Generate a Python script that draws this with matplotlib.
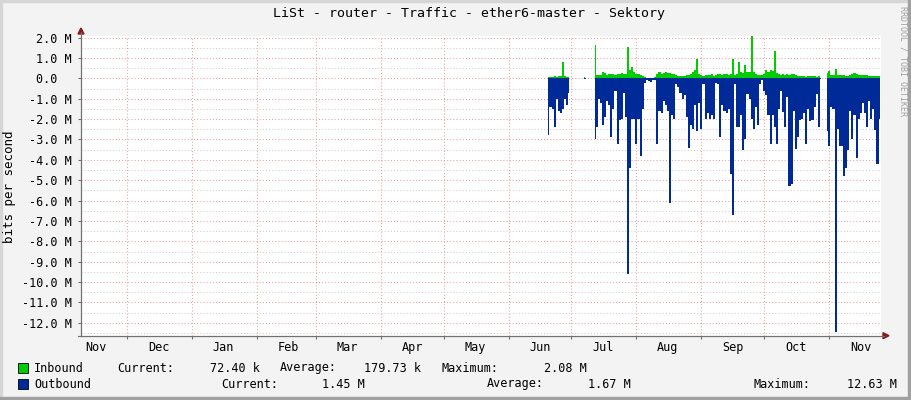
import datetime as dt
import numpy as np
import matplotlib
matplotlib.use("Agg")
import matplotlib.pyplot as plt
import matplotlib.dates as mdates
from matplotlib.ticker import MultipleLocator, FixedLocator, NullFormatter
from matplotlib.patches import Rectangle, Polygon
from matplotlib.lines import Line2D

nan = np.nan

# daily samples from 2023-06-20, in Mbit/s
start = dt.datetime(2023, 6, 20)
inbound = [
    0.08, 0.08, 0.07, 0.10, 0.08, 0.10, 0.12, 0.80, 0.10, 0.08,
    0.05, nan, nan, nan, nan, nan, nan, 0.05, 0.04, nan,
    nan, nan, 1.64, 0.15, 0.15, 0.15, 0.30, 0.25, 0.15, 0.20,
    0.20, 0.20, 0.15, 0.20, 0.20, 0.25, 0.20, 0.20, 1.55, 0.40,
    0.55, 0.30, 0.20, 0.20, 0.15, 0.10, 0.05, 0.00, 0.00, 0.02,
    0.03, 0.05, 0.20, 0.30, 0.20, 0.25, 0.30, 0.25, 0.25, 0.20,
    0.20, 0.15, 0.10, 0.12, 0.12, 0.10, 0.15, 0.15, 0.20, 0.30,
    0.40, 0.95, 0.20, 0.15, 0.10, 0.15, 0.15, 0.15, 0.20, 0.10,
    0.15, 0.20, 0.20, 0.15, 0.20, 0.20, 0.15, 0.20, 0.95, 0.15,
    0.20, 0.80, 0.30, 0.25, 0.65, 0.30, 0.30, 2.08, 0.30, 0.20,
    0.15, 0.15, 0.15, 0.20, 0.40, 0.30, 0.40, 0.35, 1.36, 0.25,
    0.20, 0.15, 0.20, 0.15, 0.20, 0.15, 0.20, 0.20, 0.15, 0.10,
    0.10, 0.12, 0.10, 0.08, 0.10, 0.12, 0.10, 0.10, 0.08, 0.10,
    0.02, nan, nan, 0.25, 0.35, 0.15, 0.15, 0.45, 0.15, 0.15,
    0.15, 0.15, 0.10, 0.12, 0.15, 0.20, 0.25, 0.20, 0.15, 0.15,
    0.15, 0.15, 0.15, 0.10, 0.10, 0.10, 0.10, 0.10, 0.10,
]
outbound = [
    2.80, 1.40, 1.50, 2.40, 1.00, 1.60, 1.70, 1.50, 1.00, 1.30,
    0.70, nan, nan, nan, nan, nan, nan, 0.03, 0.02, nan,
    nan, nan, 3.00, 2.40, 1.00, 1.20, 2.30, 1.90, 1.10, 1.30,
    2.90, 1.50, 0.60, 3.20, 2.05, 2.00, 0.70, 1.90, 9.60, 4.40,
    2.00, 2.00, 3.20, 2.00, 3.80, 1.50, 0.25, 0.10, 0.15, 0.20,
    0.10, 0.10, 3.20, 1.60, 1.70, 1.10, 1.30, 1.60, 6.10, 1.80,
    2.00, 0.30, 0.40, 0.70, 1.00, 0.80, 1.90, 3.40, 2.30, 2.50,
    1.30, 2.60, 1.20, 2.50, 0.30, 2.00, 1.70, 2.00, 1.80, 2.00,
    0.25, 0.30, 2.90, 1.30, 1.60, 1.70, 1.50, 4.70, 6.70, 0.30,
    2.40, 2.40, 1.80, 3.50, 3.00, 0.75, 1.00, 2.00, 2.50, 1.40,
    2.30, 0.30, 0.10, 0.60, 0.80, 1.80, 3.20, 1.80, 2.40, 3.20,
    1.50, 0.60, 1.65, 2.40, 0.90, 5.30, 5.20, 1.60, 3.45, 2.90,
    2.05, 2.00, 1.70, 3.20, 1.50, 2.10, 2.05, 1.40, 0.75, 2.40,
    0.05, nan, nan, 2.60, 3.30, 1.40, 1.50, 12.45, 2.50, 3.30,
    3.30, 4.80, 4.40, 3.50, 1.60, 3.00, 1.80, 3.90, 2.00, 1.70,
    1.20, 1.70, 2.40, 1.10, 2.00, 1.50, 2.55, 4.20, 2.00,
]

ytick_values = list(range(2, -13, -1))
ytick_labels = ["2.0 M", "1.0 M", "0.0  "] + [f"{v}.0 M" for v in range(-1, -13, -1)]

legend_rows = [
    ("Inbound", "#00CC00",
     [("Current:", 117, "72.40 k", 260), ("Average:", 280, "179.73 k", 421),
      ("Maximum:", 442, "2.08 M", 587)]),
    ("Outbound", "#002A97",
     [("Current:", 221, "1.45 M", 365), ("Average:", 487, "1.67 M", 631),
      ("Maximum:", 753, "12.63 M", 897)]),
]

W, H = 911, 400
fx = lambda x: x / W
fy = lambda y: 1 - y / H

plt.rcParams['font.family'] = ['DejaVu Sans Mono']
fig = plt.figure(figsize=(W / 100, H / 100), dpi=100, facecolor="#F3F3F3")
ax = fig.add_axes([fx(81), fy(335.7), 800 / W, (335.7 - 36) / H])
ax.set_facecolor("white")

days = [start + dt.timedelta(days=i) for i in range(len(inbound))]
inb = np.array(inbound)
outb = -np.array(outbound)
ax.fill_between(days, 0, inb, color="#00CC00", lw=0, step="mid", zorder=2)
ax.fill_between(days, 0, outb, color="#002A97", lw=0, step="mid", zorder=2)

ax.set_xlim(dt.datetime(2022, 12, 1) - dt.timedelta(days=21.94),
            dt.datetime(2023, 11, 1) + dt.timedelta(days=24.66))
ax.set_ylim(-12.63, 2.08)

ax.xaxis.set_major_locator(mdates.MonthLocator())
ax.xaxis.set_major_formatter(NullFormatter())
ax.xaxis.set_minor_locator(mdates.MonthLocator(bymonthday=16))
ax.xaxis.set_minor_formatter(mdates.DateFormatter("%b"))
ax.tick_params(axis="x", which="major", length=2, color="#707070")
ax.tick_params(axis="x", which="minor", length=0, pad=3.5, labelsize=8.5)

ax.yaxis.set_major_locator(FixedLocator(ytick_values))
ax.set_yticklabels(ytick_labels)
ax.yaxis.set_minor_locator(MultipleLocator(0.5))
ax.tick_params(axis="y", which="major", length=2, color="#707070", pad=4.5, labelsize=8.5)
ax.tick_params(axis="y", which="minor", length=0)

ax.set_axisbelow(True)
ax.xaxis.grid(True, which="major", color="#EE9E9E", lw=0.75, linestyle=(0, (1, 2)))
ax.yaxis.grid(True, which="major", color="#EE9E9E", lw=0.75, linestyle=(0, (1, 2)))
ax.yaxis.grid(True, which="minor", color="#CFCFCF", lw=0.75, linestyle=(0, (1, 2)))

for s in ("top", "right"):
    ax.spines[s].set_visible(False)
for s in ("left", "bottom"):
    ax.spines[s].set_color("#707070")
    ax.spines[s].set_linewidth(0.8)
    ax.spines[s].set_zorder(3)

# axis extensions and arrows
fig.add_artist(Line2D([fx(81), fx(81)], [fy(336), fy(32)], color="#707070", lw=0.8))
fig.add_artist(Line2D([fx(78), fx(884)], [fy(335.7), fy(335.7)], color="#707070", lw=0.8))
fig.add_artist(Polygon([(fx(81), fy(28)), (fx(78), fy(34)), (fx(84), fy(34))],
                       closed=True, color="#8B1A1A", transform=fig.transFigure))
fig.add_artist(Polygon([(fx(889), fy(335.7)), (fx(883), fy(332.7)), (fx(883), fy(338.7))],
                       closed=True, color="#8B1A1A", transform=fig.transFigure))

fig.text(fx(469), fy(14), "LiSt - router - Traffic - ether6-master - Sektory",
         ha="center", va="center", fontsize=9.5)
fig.text(fx(10), fy(187), "bits per second", rotation=90, ha="center", va="center", fontsize=9)
fig.text(fx(903), fy(61), "RRDTOOL / TOBI OETIKER", rotation=270, ha="center", va="center",
         fontsize=6, color="#A0A0A0")

for i, (name, color, fields) in enumerate(legend_rows):
    y = 368 + 16 * i
    fig.add_artist(Rectangle((fx(17.5), fy(y + 5)), 10 / W, 10 / H, facecolor=color,
                             edgecolor="black", lw=0.6, transform=fig.transFigure))
    fig.text(fx(34), fy(y), name, ha="left", va="center", fontsize=8.5)
    for label, lx, value, vx in fields:
        fig.text(fx(lx), fy(y), label, ha="left", va="center", fontsize=8.5)
        fig.text(fx(vx), fy(y), value, ha="right", va="center", fontsize=8.5)

# frame shading
fig.add_artist(Rectangle((0, fy(2)), 1, 2 / H, color="#D6D6D6", transform=fig.transFigure))
fig.add_artist(Rectangle((0, 0), 2 / W, 1, color="#D6D6D6", transform=fig.transFigure))
fig.add_artist(Rectangle((fx(908), 0), 3 / W, 1, color="#A0A0A0", transform=fig.transFigure))
fig.add_artist(Rectangle((0, 0), 1, 3 / H, color="#A0A0A0", transform=fig.transFigure))

fig.savefig("out.png", dpi=100, facecolor=fig.get_facecolor())
